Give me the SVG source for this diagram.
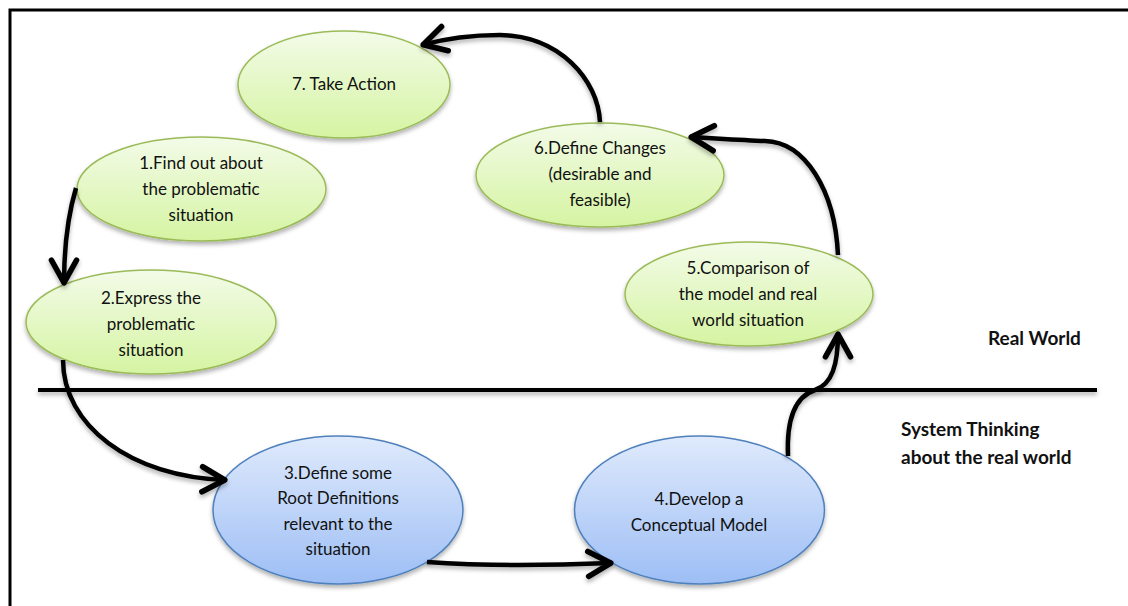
<svg xmlns="http://www.w3.org/2000/svg" width="1128" height="606" viewBox="0 0 1128 606">
  <style>
    .node-text { font-family: "Lato", "Liberation Sans", sans-serif; font-size: 17px; fill: #111; text-anchor: middle; }
    .label { font-family: "Lato", "Liberation Sans", sans-serif; font-size: 19px; font-weight: bold; fill: #111; }
    .green { fill: url(#gGreen); stroke: #9bbb59; stroke-width: 1.5; filter: url(#shadow); }
    .blue { fill: url(#gBlue); stroke: #4f81bd; stroke-width: 1.5; filter: url(#shadow); }
    .conn { fill: none; stroke: #000; stroke-width: 4.5; marker-end: url(#arrow); }
  </style>
  <defs>
    <linearGradient id="gGreen" x1="0" y1="0" x2="0" y2="1">
      <stop offset="0" stop-color="#f3fbe8"/>
      <stop offset="1" stop-color="#d5f4a2"/>
    </linearGradient>
    <linearGradient id="gBlue" x1="0" y1="0" x2="0" y2="1">
      <stop offset="0" stop-color="#dfeafc"/>
      <stop offset="1" stop-color="#9dbef5"/>
    </linearGradient>
    <filter id="shadow" x="-10%" y="-10%" width="120%" height="130%">
      <feDropShadow dx="0" dy="3" stdDeviation="2" flood-color="#000" flood-opacity="0.3"/>
    </filter>
    <filter id="lineShadow" filterUnits="userSpaceOnUse" x="0" y="370" width="1128" height="40">
      <feDropShadow dx="0" dy="3" stdDeviation="2" flood-color="#000" flood-opacity="0.3"/>
    </filter>
    <marker id="arrow" markerUnits="userSpaceOnUse" markerWidth="40" markerHeight="40" viewBox="-26 -16 32 32" refX="1" refY="0" orient="auto">
      <path d="M-18,-10 L0,0 L-18,10" fill="none" stroke="#000" stroke-width="4.5" stroke-linejoin="round" stroke-linecap="round"/>
    </marker>
  </defs>

  <rect width="1128" height="606" fill="#fff"/>

  <!-- frame -->
  <path d="M10,606 L10,10 L1128,10" fill="none" stroke="#000" stroke-width="3"/>

  <!-- boundary between real world and systems thinking -->
  <line x1="38" y1="390" x2="1097" y2="390" stroke="#000" stroke-width="4" filter="url(#lineShadow)"/>

  <text class="label" x="988" y="345">Real World</text>
  <text class="label" x="901" y="436">System Thinking</text>
  <text class="label" x="901" y="464">about the real world</text>

  <g id="node7">
    <ellipse class="green" cx="344" cy="84.5" rx="106" ry="53.5"/>
    <text class="node-text" x="344" y="90">7. Take Action</text>
  </g>

  <g id="node1">
    <ellipse class="green" cx="201.5" cy="189" rx="124.5" ry="52"/>
    <text class="node-text" x="201" y="169">1.Find out about</text>
    <text class="node-text" x="201" y="195">the problematic</text>
    <text class="node-text" x="201" y="221">situation</text>
  </g>

  <g id="node2">
    <ellipse class="green" cx="151" cy="322" rx="125" ry="52"/>
    <text class="node-text" x="151" y="304">2.Express the</text>
    <text class="node-text" x="151" y="330">problematic</text>
    <text class="node-text" x="151" y="356">situation</text>
  </g>

  <g id="node6">
    <ellipse class="green" cx="600" cy="175" rx="124" ry="52"/>
    <text class="node-text" x="600" y="154">6.Define Changes</text>
    <text class="node-text" x="600" y="180">(desirable and</text>
    <text class="node-text" x="600" y="206">feasible)</text>
  </g>

  <g id="node5">
    <ellipse class="green" cx="749" cy="294" rx="124" ry="52"/>
    <text class="node-text" x="748" y="274">5.Comparison of</text>
    <text class="node-text" x="748" y="300">the model and real</text>
    <text class="node-text" x="748" y="326">world situation</text>
  </g>

  <g id="node3">
    <ellipse class="blue" cx="338" cy="510" rx="125" ry="74"/>
    <text class="node-text" x="338" y="479">3.Define some</text>
    <text class="node-text" x="338" y="504">Root Definitions</text>
    <text class="node-text" x="338" y="530">relevant to the</text>
    <text class="node-text" x="338" y="555">situation</text>
  </g>

  <g id="node4">
    <ellipse class="blue" cx="699.5" cy="510" rx="125" ry="74"/>
    <text class="node-text" x="699" y="505">4.Develop a</text>
    <text class="node-text" x="699" y="531">Conceptual Model</text>
  </g>

  <g id="connectors" filter="url(#shadow)">
    <path class="conn" d="M76,188 C68,215 64,250 64,284"/>
    <path class="conn" d="M63,360 C63,425 130,477 226,480"/>
    <path class="conn" d="M427,562 C480,566 560,565 612,563"/>
    <path class="conn" d="M788,456 C786,410 800,395 815,390 C832,384 838,365 838,333"/>
    <path class="conn" d="M838,255 C835,190 805,142 765,141 C740,140 710,138 690,137"/>
    <path class="conn" d="M600,122 C598,80 560,36 500,35 C470,35 440,40 422,45"/>
  </g>
</svg>
